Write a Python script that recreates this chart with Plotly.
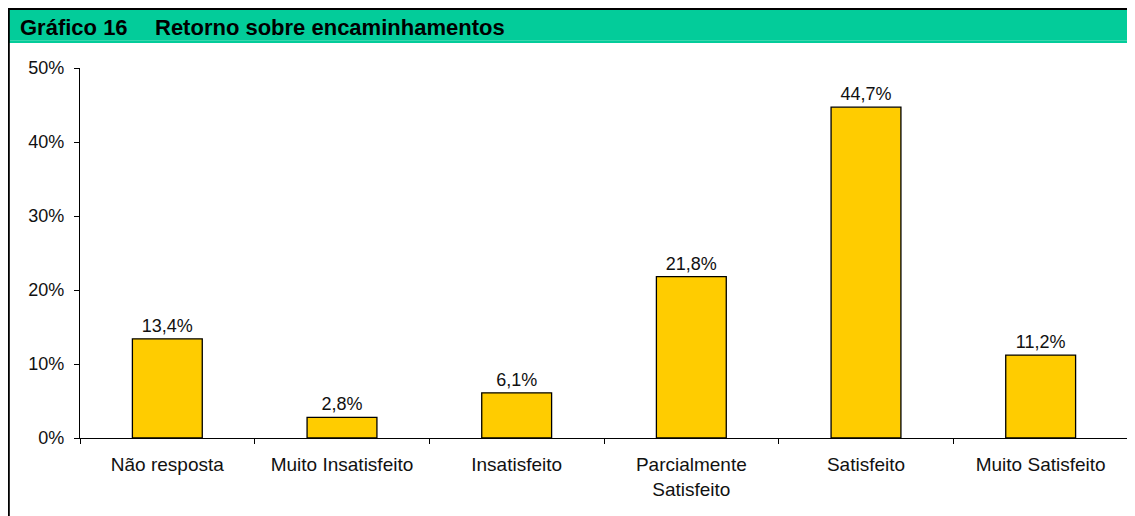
import plotly.graph_objects as go

categories = ["Não resposta", "Muito Insatisfeito", "Insatisfeito",
              "Parcialmente<br>Satisfeito", "Satisfeito", "Muito Satisfeito"]
values = [13.4, 2.8, 6.1, 21.8, 44.7, 11.2]
y_ticks = [0, 10, 20, 30, 40, 50]
y_tick_labels = ["0%", "10%", "20%", "30%", "40%", "50%"]
title_num = "Gráfico 16"
title_text = "Retorno sobre encaminhamentos"

# page body has an 8px margin; figure coordinates = screen - 8
W, H = 1127, 508
L, R, T, B = 72, 1120, 60, 430

def px(x):
    return (x - L) / (R - L)

def py(y):
    return (B - y) / (B - T)

font = "Liberation Sans, Arial, sans-serif"

fig = go.Figure(go.Bar(
    x=categories, y=values,
    marker=dict(color="#FFCC00", line=dict(color="black", width=1.3)),
    texttemplate="%{y:.1f}%", textposition="outside",
    textfont=dict(size=18, color="#111111", family=font),
    cliponaxis=False, width=0.4,
))

fig.update_layout(
    width=W, height=H,
    margin=dict(l=L, r=W - R, t=T, b=H - B),
    paper_bgcolor="white", plot_bgcolor="white",
    separators=",.",
    showlegend=False,
    font=dict(family=font, size=18, color="#111111"),
    xaxis=dict(showline=True, linecolor="black", linewidth=1.3, ticks="outside",
               tickson="boundaries", ticklen=5, tickcolor="black", tickwidth=1,
               tickfont=dict(size=19), showgrid=False, ticklabelstandoff=9),
    yaxis=dict(range=[0, 50], tickvals=y_ticks, ticktext=y_tick_labels,
               showline=True, linecolor="black", linewidth=1.3, ticks="outside",
               ticklen=5, tickcolor="black", tickwidth=1, showgrid=False,
               zeroline=False, tickfont=dict(size=18), ticklabelstandoff=6),
    shapes=[
        dict(type="rect", xref="paper", yref="paper", x0=px(1), x1=px(W + 1),
             y0=py(35), y1=py(2), fillcolor="#03CC9A", line=dict(width=0), layer="below"),
        dict(type="line", xref="paper", yref="paper", x0=px(2), x1=px(W + 1),
             y0=py(32.5), y1=py(32.5), line=dict(color="#3AD6AD", width=1)),
        dict(type="line", xref="paper", yref="paper", x0=px(0), x1=px(W + 1),
             y0=py(1), y1=py(1), line=dict(color="black", width=2)),
        dict(type="line", xref="paper", yref="paper", x0=px(0.8), x1=px(0.8),
             y0=py(0), y1=py(H + 1), line=dict(color="black", width=2)),
    ],
    annotations=[
        dict(text="<b>%s</b>" % title_num, xref="paper", yref="paper", x=px(10), y=py(19),
             xanchor="left", yanchor="middle", showarrow=False,
             font=dict(size=22, color="black", family=font)),
        dict(text="<b>%s</b>" % title_text, xref="paper", yref="paper", x=px(145), y=py(19),
             xanchor="left", yanchor="middle", showarrow=False,
             font=dict(size=22, color="black", family=font)),
    ],
)

fig.write_html("out.html")
